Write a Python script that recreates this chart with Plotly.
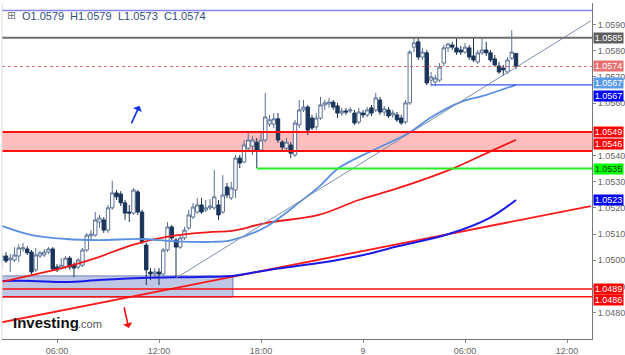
import pandas as pd
import plotly.graph_objects as go

# ---------------- data ----------------
start_time = "2022-12-08 02:45"

opens = [1.05001, 1.05016, 1.05001, 1.05001, 1.05016, 1.05043, 1.05043, 1.05031, 1.04963, 1.05016,
         1.05020, 1.05031, 1.05043, 1.04974, 1.04970, 1.04974, 1.05008, 1.04981, 1.04974, 1.04981,
         1.05039, 1.05093, 1.05096, 1.05146, 1.05154, 1.05115, 1.05200, 1.05257, 1.05253, 1.05219,
         1.05184, 1.05180, 1.05261, 1.05184, 1.05058, 1.04955, 1.04947, 1.04955, 1.04947, 1.05039,
         1.05127, 1.05077, 1.05050, 1.05085, 1.05123, 1.05165, 1.05184, 1.05211, 1.05192, 1.05200,
         1.05200, 1.05211, 1.05184, 1.05280, 1.05238, 1.05268, 1.05390, 1.05375, 1.05428, 1.05436,
         1.05451, 1.05421, 1.05459, 1.05520, 1.05520, 1.05540, 1.05451, 1.05428, 1.05440, 1.05402,
         1.05517, 1.05574, 1.05585, 1.05543, 1.05509, 1.05543, 1.05593, 1.05597, 1.05604, 1.05589,
         1.05562, 1.05570, 1.05570, 1.05562, 1.05528, 1.05562, 1.05555, 1.05582, 1.05574, 1.05612,
         1.05566, 1.05574, 1.05555, 1.05555, 1.05543, 1.05528, 1.05601, 1.05814, 1.05834, 1.05776,
         1.05792, 1.05688, 1.05681, 1.05688, 1.05753, 1.05811, 1.05822, 1.05811, 1.05803, 1.05795,
         1.05811, 1.05780, 1.05757, 1.05792, 1.05803, 1.05792, 1.05769, 1.05742, 1.05734, 1.05719,
         1.05772, 1.0579]
highs = [1.05039, 1.05031, 1.05024, 1.05050, 1.05062, 1.05066, 1.05054, 1.05039, 1.05047, 1.05035,
         1.05043, 1.05050, 1.05050, 1.04985, 1.05008, 1.05016, 1.05016, 1.04993, 1.05008, 1.05047,
         1.05104, 1.05115, 1.05184, 1.05173, 1.05165, 1.05211, 1.05303, 1.05268, 1.05264, 1.05230,
         1.05211, 1.05276, 1.05268, 1.05192, 1.05066, 1.04970, 1.04970, 1.04970, 1.05047, 1.05146,
         1.05135, 1.05085, 1.05096, 1.05127, 1.05192, 1.05219, 1.05238, 1.05238, 1.05230, 1.05234,
         1.05345, 1.05230, 1.05325, 1.05295, 1.05299, 1.05402, 1.05402, 1.05459, 1.05486, 1.05474,
         1.05467, 1.05490, 1.05639, 1.05555, 1.05562, 1.05562, 1.05459, 1.05467, 1.05451, 1.05536,
         1.05612, 1.05612, 1.05593, 1.05555, 1.05562, 1.05624, 1.05612, 1.05620, 1.05612, 1.05601,
         1.05582, 1.05582, 1.05585, 1.05574, 1.05582, 1.05574, 1.05585, 1.05593, 1.05639, 1.05624,
         1.05589, 1.05585, 1.05574, 1.05566, 1.05555, 1.05612, 1.05803, 1.05853, 1.05853, 1.05811,
         1.05803, 1.05719, 1.05708, 1.05753, 1.05822, 1.05830, 1.05834, 1.05849, 1.05818, 1.05830,
         1.05822, 1.05849, 1.05803, 1.05849, 1.05834, 1.05803, 1.05784, 1.05757, 1.05746, 1.05776,
         1.05879, 1.0579]
lows = [1.04970, 1.04989, 1.04955, 1.04993, 1.04993, 1.05031, 1.05020, 1.04947, 1.04955, 1.05008,
        1.05012, 1.05024, 1.04959, 1.04955, 1.04963, 1.04966, 1.04963, 1.04936, 1.04966, 1.04974,
        1.05031, 1.05077, 1.05089, 1.05123, 1.05104, 1.05104, 1.05192, 1.05230, 1.05207, 1.05154,
        1.05146, 1.05173, 1.05173, 1.05062, 1.04905, 1.04924, 1.04936, 1.04905, 1.04940, 1.05031,
        1.05077, 1.04932, 1.05043, 1.05077, 1.05115, 1.05157, 1.05177, 1.05177, 1.05184, 1.05192,
        1.05192, 1.05154, 1.05177, 1.05238, 1.05230, 1.05238, 1.05352, 1.05371, 1.05413, 1.05402,
        1.05352, 1.05413, 1.05451, 1.05509, 1.05505, 1.05448, 1.05421, 1.05421, 1.05390, 1.05394,
        1.05505, 1.05566, 1.05478, 1.05497, 1.05497, 1.05536, 1.05574, 1.05582, 1.05574, 1.05543,
        1.05551, 1.05555, 1.05562, 1.05517, 1.05520, 1.05543, 1.05547, 1.05551, 1.05566, 1.05555,
        1.05551, 1.05543, 1.05543, 1.05528, 1.05517, 1.05520, 1.05593, 1.05795, 1.05765, 1.05765,
        1.05669, 1.05666, 1.05666, 1.05681, 1.05742, 1.05795, 1.05803, 1.05784, 1.05784, 1.05788,
        1.05765, 1.05757, 1.05750, 1.05784, 1.05780, 1.05757, 1.05738, 1.05712, 1.05704, 1.05712,
        1.05765, 1.0573]
closes = [1.05016, 1.04997, 1.05008, 1.05020, 1.05047, 1.05047, 1.05028, 1.04955, 1.05020, 1.05028,
          1.05031, 1.05043, 1.04966, 1.04963, 1.04981, 1.05008, 1.04974, 1.04970, 1.05001, 1.05039,
          1.05096, 1.05100, 1.05154, 1.05161, 1.05115, 1.05200, 1.05257, 1.05242, 1.05219, 1.05180,
          1.05180, 1.05268, 1.05184, 1.05070, 1.04963, 1.04947, 1.04955, 1.04947, 1.05039, 1.05127,
          1.05085, 1.05050, 1.05085, 1.05115, 1.05173, 1.05203, 1.05211, 1.05184, 1.05200, 1.05207,
          1.05242, 1.05173, 1.05249, 1.05249, 1.05276, 1.05390, 1.05371, 1.05440, 1.05459, 1.05459,
          1.05421, 1.05459, 1.05547, 1.05536, 1.05540, 1.05459, 1.05432, 1.05451, 1.05409, 1.05524,
          1.05574, 1.05585, 1.05497, 1.05505, 1.05543, 1.05593, 1.05601, 1.05604, 1.05585, 1.05562,
          1.05570, 1.05566, 1.05574, 1.05524, 1.05566, 1.05555, 1.05574, 1.05562, 1.05620, 1.05566,
          1.05578, 1.05551, 1.05562, 1.05536, 1.05524, 1.05601, 1.05795, 1.05830, 1.05776, 1.05795,
          1.05677, 1.05700, 1.05696, 1.05738, 1.05811, 1.05826, 1.05814, 1.05795, 1.05795, 1.05814,
          1.05776, 1.05765, 1.05792, 1.05803, 1.05792, 1.05765, 1.05746, 1.05719, 1.05727, 1.05765,
          1.05795, 1.0574]

# moving averages (hours from 2022-12-08 00:00, price)
ma_fast_hours = [2.75, 4.51, 6.51, 8.46, 10.99, 12.75, 15.10, 16.28, 18.28, 20.22, 21.40, 22.57,
                 24.63, 26.69, 28.04, 29.63, 31.22, 33.0]
ma_fast_values = [1.05131, 1.05096, 1.05081, 1.05077, 1.05081, 1.05073, 1.05070, 1.05077, 1.05127,
                  1.05219, 1.05280, 1.05352, 1.05421, 1.05486, 1.05547, 1.05601, 1.05631, 1.0567]
ma_mid_hours = [2.75, 4.51, 6.51, 8.46, 10.40, 12.75, 15.10, 16.28, 18.28, 21.40, 23.75, 26.10,
                29.34, 31.40, 33.0]
ma_mid_values = [1.04917, 1.04943, 1.04974, 1.05012, 1.05058, 1.05093, 1.05108, 1.05112, 1.05142,
                 1.05173, 1.05230, 1.05276, 1.05352, 1.05413, 1.0546]
ma_slow_hours = [2.75, 4.51, 6.51, 8.46, 10.99, 14.34, 16.28, 18.46, 21.40, 23.75, 26.10, 29.04,
                 31.40, 33.0]
ma_slow_values = [1.04921, 1.04921, 1.04917, 1.04924, 1.04932, 1.04936, 1.04940, 1.04963, 1.04989,
                  1.05016, 1.05054, 1.05100, 1.05160, 1.0523]

# drawn objects
trend_thin_hours = [13.0, 37.4]
trend_thin_values = [1.04932, 1.05914]
trend_red_hours = [2.7, 37.4]
trend_red_values = [1.04762, 1.05207]
zone_top, zone_bottom = 1.0549, 1.05417
box_hours = [2.7, 16.35]
box_values = [1.04859, 1.04940]
level_gray = 1.0585
level_top = 1.05954
level_current = 1.0574
level_green, level_green_start = 1.0535, 17.75
level_blue, level_blue_start = 1.0567, 28.0
level_red_a, level_red_b = 1.0489, 1.0486
arrow_up_hours = [10.34, 10.85]
arrow_up_values = [1.05517, 1.05590]
arrow_down_hours = [9.93, 10.22]
arrow_down_values = [1.04825, 1.04741]

# right-axis value tags
tag_values = [1.0585, 1.0574, 1.0567, 1.0567, 1.0549, 1.0546, 1.0535, 1.0523, 1.0489, 1.0486]

x_tick_hours = [6, 12, 18, 24, 30, 36]
x_tick_text = ["06:00", "12:00", "18:00", "9", "06:00", "12:00"]
y_ticks = [1.048, 1.049, 1.050, 1.051, 1.052, 1.053, 1.054, 1.056, 1.057, 1.058, 1.059]

# ---------------- figure ----------------
base = pd.Timestamp("2022-12-08 00:00")


def T(h):
    return base + pd.Timedelta(hours=h)


times = pd.date_range(start_time, periods=len(opens), freq="15min")
x_min, x_max = T(2.765), T(37.47)
FONT = "Liberation Sans, Arial, sans-serif"

fig = go.Figure()
fig.add_trace(go.Candlestick(
    x=times, open=opens, high=highs, low=lows, close=closes,
    increasing=dict(line=dict(color="#5a7196", width=1), fillcolor="white"),
    decreasing=dict(line=dict(color="#1b355a", width=1), fillcolor="#1b355a"),
    whiskerwidth=0, showlegend=False, hoverinfo="skip"))

fig.add_trace(go.Scatter(x=[T(h) for h in trend_red_hours], y=trend_red_values, mode="lines",
                         line=dict(color="#ff1a1a", width=1.8), showlegend=False, hoverinfo="skip"))
fig.add_trace(go.Scatter(x=[T(h) for h in ma_slow_hours], y=ma_slow_values, mode="lines",
                         line=dict(color="#1a1ae8", width=2, shape="spline"), showlegend=False, hoverinfo="skip"))
fig.add_trace(go.Scatter(x=[T(h) for h in ma_mid_hours], y=ma_mid_values, mode="lines",
                         line=dict(color="#f01818", width=1.8, shape="spline"), showlegend=False, hoverinfo="skip"))
fig.add_trace(go.Scatter(x=[T(h) for h in ma_fast_hours], y=ma_fast_values, mode="lines",
                         line=dict(color="#5b8fe0", width=1.8, shape="spline"), showlegend=False, hoverinfo="skip"))
fig.add_trace(go.Scatter(x=[T(h) for h in trend_thin_hours], y=trend_thin_values, mode="lines",
                         line=dict(color="#7d8fae", width=1), showlegend=False, hoverinfo="skip"))

shapes = [
    dict(type="rect", xref="paper", x0=0, x1=1, y0=zone_bottom, y1=zone_top,
         fillcolor="rgba(255,40,40,0.30)", line=dict(width=0), layer="below"),
    dict(type="line", xref="paper", x0=0, x1=1, y0=zone_top, y1=zone_top, line=dict(color="#ff1010", width=2)),
    dict(type="line", xref="paper", x0=0, x1=1, y0=zone_bottom, y1=zone_bottom, line=dict(color="#ff1010", width=2)),
    dict(type="rect", xref="x", x0=T(box_hours[0]), x1=T(box_hours[1]), y0=box_values[0], y1=box_values[1],
         fillcolor="rgba(115,130,195,0.45)", line=dict(color="#6f7fb8", width=1), layer="below"),
    dict(type="line", xref="paper", x0=0, x1=1, y0=level_red_a, y1=level_red_a, line=dict(color="#ff1010", width=1.5)),
    dict(type="line", xref="paper", x0=0, x1=1, y0=level_red_b, y1=level_red_b, line=dict(color="#ff1010", width=1.5)),
    dict(type="line", xref="paper", x0=0, x1=1, y0=level_gray, y1=level_gray, line=dict(color="#6e6e6e", width=2)),
    dict(type="line", xref="paper", x0=0, x1=1, y0=level_top, y1=level_top, line=dict(color="#8585f0", width=1.5)),
    dict(type="line", xref="paper", x0=0, x1=1, y0=level_current, y1=level_current,
         line=dict(color="#e86a6a", width=1, dash="dot")),
    dict(type="line", xref="x", x0=T(level_green_start), x1=x_max, y0=level_green, y1=level_green,
         line=dict(color="#22ee22", width=2)),
    dict(type="line", xref="x", x0=T(level_blue_start), x1=x_max, y0=level_blue, y1=level_blue,
         line=dict(color="#3a55f0", width=1.2)),
    dict(type="line", xref="paper", yref="paper", x0=0, x1=0, y0=0, y1=1, line=dict(color="#dddddd", width=1)),
]

tag_bg = ["#5e5e5e", "#e87070", "#5b9bea", "#0000ff", "#ff0000", "#ff0000", "#00ff00", "#0000ff", "#ff0000", "#ff0000"]
tag_fg = ["white", "white", "white", "white", "white", "white", "#1a3a1a", "white", "white", "white"]
tag_shift = [0, 0, 2, -11, 0, -4, 0, 0, 0, -3]

annotations = []
for v, bg, fg, sh in zip(tag_values, tag_bg, tag_fg, tag_shift):
    annotations.append(dict(xref="paper", yref="y", x=1, y=v, xanchor="left", xshift=1, yshift=sh,
                            text=f"{v:.4f}", showarrow=False, bgcolor=bg, width=29, height=10,
                            borderpad=0, font=dict(family=FONT, size=9, color=fg)))

# arrows
annotations.append(dict(x=T(arrow_up_hours[1]), y=arrow_up_values[1], ax=T(arrow_up_hours[0]), ay=arrow_up_values[0],
                        xref="x", yref="y", axref="x", ayref="y", text="", showarrow=True,
                        arrowhead=1, arrowsize=1, arrowwidth=1.6, arrowcolor="#1030e8"))
annotations.append(dict(x=T(arrow_down_hours[1]), y=arrow_down_values[1], ax=T(arrow_down_hours[0]), ay=arrow_down_values[0],
                        xref="x", yref="y", axref="x", ayref="y", text="", showarrow=True,
                        arrowhead=1, arrowsize=1, arrowwidth=1.6, arrowcolor="#f01010"))


def px_x(px):
    return (px - 2) / 590.0


def px_y(py):
    return (339 - py) / 336.0


# OHLC legend
annotations.append(dict(xref="paper", yref="paper", x=px_x(5), y=px_y(16), xanchor="left", yanchor="middle",
                        text="⊞", showarrow=False, font=dict(family="DejaVu Sans", size=11, color="#7a7a7a")))
legend_parts = [("O", opens[-1], 20), ("H", highs[-1], 68), ("L", lows[-1], 116), ("C", closes[-1], 162)]
for lab, val, px in legend_parts:
    annotations.append(dict(xref="paper", yref="paper", x=px_x(px), y=px_y(16), xanchor="left", yanchor="middle",
                            text=f"{lab}{val:.4f}", showarrow=False,
                            font=dict(family=FONT, size=11, color="#34507a")))

# logo
annotations.append(dict(xref="paper", yref="paper", x=px_x(11), y=px_y(322), xanchor="left", yanchor="middle",
                        text="<b>Investing</b>", showarrow=False, font=dict(family=FONT, size=15, color="#111111")))
annotations.append(dict(xref="paper", yref="paper", x=px_x(76), y=px_y(324), xanchor="left", yanchor="middle",
                        text=".com", showarrow=False, font=dict(family=FONT, size=11, color="#555555")))

fig.update_layout(
    width=625, height=355,
    margin=dict(l=2, r=33, t=3, b=16, autoexpand=False),
    paper_bgcolor="white", plot_bgcolor="white",
    boxgap=0.2, boxgroupgap=0,
    shapes=shapes, annotations=annotations,
    showlegend=False,
    xaxis=dict(range=[x_min, x_max], rangeslider=dict(visible=False), showgrid=False, zeroline=False,
               automargin=False,
               showline=True, linecolor="#777777", linewidth=1, ticks="outside", ticklen=3, tickcolor="#888888",
               tickvals=[T(h) for h in x_tick_hours], ticktext=x_tick_text,
               tickfont=dict(family=FONT, size=9, color="#666666")),
    yaxis=dict(range=[1.04699, 1.059825], side="right", showgrid=False, zeroline=False,
               automargin=False,
               showline=True, linecolor="#777777", linewidth=1, ticks="outside", ticklen=3, tickcolor="#888888",
               tickvals=y_ticks, tickformat=".4f",
               tickfont=dict(family=FONT, size=9, color="#666666")),
)

fig.write_html("out.html")
